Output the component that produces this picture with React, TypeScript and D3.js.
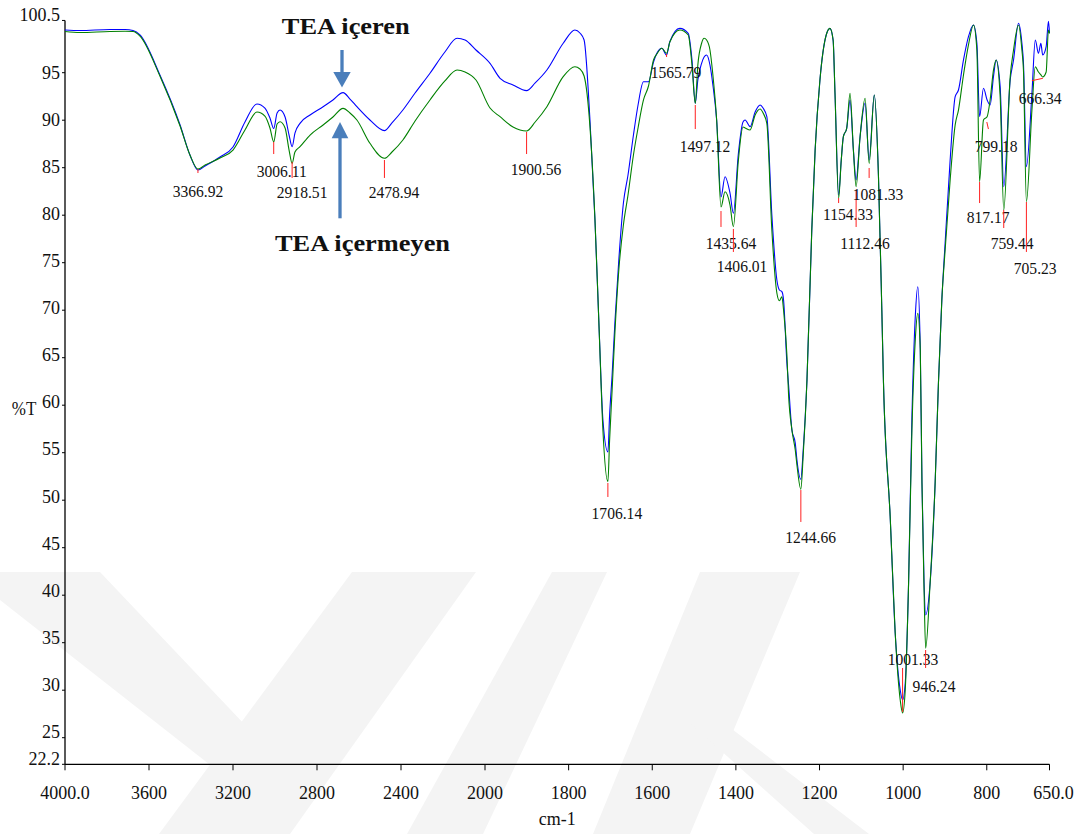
import React from "react";
import * as d3 from "d3";

// ---------- DATA ----------
const wavenumbers = [
  4000, 3929, 3786, 3714, 3676, 3643, 3548, 3452, 3405, 3367, 3333, 3262, 3200, 3143, 3086, 3048, 3024, 3006, 2990, 2976,
  2952, 2933, 2918.5, 2905, 2881, 2833, 2771, 2724, 2676, 2643, 2610, 2548, 2479, 2443, 2391, 2333, 2262, 2191, 2133, 2095,
  2043, 1988, 1964, 1933, 1900.6, 1880, 1852, 1813, 1785, 1773, 1763, 1749, 1737, 1727, 1718, 1706.1, 1702, 1696, 1689, 1680,
  1669, 1658, 1645, 1634, 1621, 1609, 1597, 1589, 1577, 1565.8, 1558, 1534, 1514, 1505, 1497.1, 1491, 1482, 1476, 1470, 1462,
  1455, 1446, 1435.6, 1426, 1414, 1406, 1394, 1383, 1378, 1366, 1354, 1342, 1335, 1326, 1314, 1302, 1296, 1290, 1286, 1278,
  1274, 1266, 1258, 1254, 1244.7, 1239, 1230, 1218.5, 1210.5, 1199, 1184, 1175, 1167.5, 1163, 1154.3, 1148, 1143, 1135, 1127, 1119,
  1112.5, 1103, 1091, 1081.3, 1069, 1059, 1051, 1047, 1031, 1019, 1007, 1001.3, 995, 987, 979, 971, 965, 959, 955, 950,
  946.2, 935.5, 923.5, 915.6, 907.5, 899.6, 887.6, 875.6, 867.7, 855.7, 843.8, 831.8, 823.7, 817.2, 807.9, 799.2, 792, 784, 777.6, 768,
  759.4, 744, 736, 724.2, 716, 712.3, 705.2, 692, 684, 676.4, 670.6, 666.3, 658, 652.5, 650,
];

// "TEA içeren" (blue)
const teaIceren = [
  99.5, 99.44, 99.55, 99.55, 99.44, 98.97, 94.76, 89.5, 86.34, 84.76, 85.18, 86.13, 87.18, 89.81, 91.71, 91.28, 90.23, 89.13, 90.76, 91.07,
  90.34, 88.44, 87.21, 88.65, 89.67, 90.55, 91.42, 92.13, 92.9, 92.23, 91.42, 90.02, 88.9, 89.71, 91.07, 92.86, 94.94, 97.18, 98.62, 98.44,
  97.39, 95.99, 94.41, 93.71, 93.11, 93.92, 95.28, 98.1, 99.5, 99.18, 98.44, 90.02, 79.5, 67.92, 58.44, 55.07, 58.97, 63.18, 68.97, 75.28,
  81.28, 84.23, 88.44, 91.6, 94.05, 94.05, 96.13, 97.04, 97.57, 96.86, 98.26, 99.67, 99.15, 96.34, 91.78, 94.23, 95.99, 96.65, 96.86, 95.81,
  93.71, 90.02, 81.92, 84.05, 82.31, 80.2, 86.52, 89.81, 90.02, 89.32, 90.86, 91.6, 91.28, 90.37, 80.02, 73.18, 72.13, 71.95, 71.07, 64.44,
  62.13, 57.39, 56.02, 54.23, 52.2, 55.28, 62.65, 78.44, 86.86, 94.23, 98.97, 99.67, 98.44, 92.83, 82.13, 85.81, 88.26, 89.15, 92.13, 86.86,
  83.71, 88.26, 91.81, 85.81, 92.65, 84.05, 70.02, 62.34, 48.26, 36.02, 30.02, 28.97, 30.76, 41.28, 58.79, 69.32, 72.47, 65.81, 51.81, 41.28,
  37.92, 41.28, 51.81, 62.34, 71.07, 77.07, 85.81, 92.47, 93.18, 96.34, 98.79, 100.02, 98.1, 90.37, 93.36, 92.13, 91.6, 94.58, 96.34, 93.53,
  83.0, 94.23, 96.34, 100.2, 98.1, 96.02, 85.11, 92.83, 98.44, 97.04, 98.1, 96.86, 97.74, 100.4, 99.15,
];

// "TEA içermeyen" (green)
const teaIcermeyen = [
  99.34, 99.23, 99.34, 99.36, 99.34, 98.86, 94.65, 89.39, 86.34, 84.86, 85.28, 86.02, 86.86, 88.97, 90.86, 90.44, 89.18, 87.71, 89.6, 89.84,
  89.18, 86.86, 85.46, 86.65, 87.21, 88.44, 89.5, 90.34, 91.25, 90.76, 90.02, 87.57, 85.99, 86.65, 87.92, 89.92, 92.13, 94.13, 95.28, 95.07,
  94.23, 91.28, 90.37, 89.28, 88.86, 89.81, 91.42, 94.58, 95.63, 95.39, 94.65, 89.32, 79.5, 67.92, 57.39, 51.95, 56.34, 61.6, 67.92, 74.23,
  78.97, 82.13, 86.34, 89.18, 92.13, 93.6, 96.34, 96.97, 97.57, 97.04, 98.23, 99.5, 98.97, 95.81, 91.78, 95.81, 98.1, 98.62, 98.44, 97.39,
  94.76, 90.02, 80.86, 82.47, 81.07, 78.79, 85.81, 89.28, 89.18, 88.97, 90.55, 91.18, 90.76, 89.67, 78.44, 71.81, 71.0, 71.42, 70.02, 65.28,
  61.07, 57.39, 55.28, 53.71, 51.15, 54.76, 62.65, 78.44, 86.86, 94.23, 98.97, 99.67, 98.44, 92.86, 81.78, 85.81, 88.26, 89.15, 92.83, 86.86,
  83.0, 88.26, 92.31, 85.46, 92.65, 84.05, 70.02, 62.34, 48.26, 36.02, 28.97, 27.6, 30.02, 41.28, 57.39, 66.86, 69.67, 65.81, 51.81, 40.55,
  34.41, 41.28, 51.81, 62.34, 71.07, 76.34, 83.71, 89.5, 91.07, 94.76, 97.92, 100.02, 97.39, 83.53, 90.02, 90.37, 92.13, 95.28, 96.34, 92.47,
  80.55, 94.58, 97.39, 100.02, 97.39, 95.28, 81.42, 91.07, 95.63, 95.07, 94.76, 94.55, 95.07, 99.5, 99.15,
];

const xTickValues = [4000, 3600, 3200, 2800, 2400, 2000, 1800, 1600, 1400, 1200, 1000, 800, 650];
const xTickLabels = ["4000.0", "3600", "3200", "2800", "2400", "2000", "1800", "1600", "1400", "1200", "1000", "800", "650.0"];
const yTickValues = [100.5, 95, 90, 85, 80, 75, 70, 65, 60, 55, 50, 45, 40, 35, 30, 25, 22.2];
const yTickLabels = ["100.5", "95", "90", "85", "80", "75", "70", "65", "60", "55", "50", "45", "40", "35", "30", "25", "22.2"];

const peakWavenumbers = [3366.92, 3006.11, 2918.51, 2478.94, 1900.56, 1706.14, 1565.79, 1497.12, 1435.64, 1406.01, 1244.66,
  1154.33, 1112.46, 1081.33, 1001.33, 946.24, 817.17, 799.18, 759.44, 705.23, 666.34];
const peakLabels = ["3366.92", "3006.11", "2918.51", "2478.94", "1900.56", "1706.14", "1565.79", "1497.12", "1435.64", "1406.01", "1244.66",
  "1154.33", "1112.46", "1081.33", "1001.33", "946.24", "817.17", "799.18", "759.44", "705.23", "666.34"];

const seriesNames = ["TEA içeren", "TEA içermeyen"];
const xAxisTitle = "cm-1";
const yAxisTitle = "%T";

// ---------- LAYOUT (annotation placement, in %T units / px offsets) ----------
const peakLineTop = [84.86, 87.71, 85.6, 85.81, 88.76, 51.81, 96.97, 91.6, 80.44, 78.55, 51.07, 81.81, 82.65, 84.97, 32.34, 34.23, 83.5, 89.81, 80.55, 81.39, 94.16];
const peakLineBottom = [84.44, 86.44, 83.92, 83.92, 86.44, 50.34, 96.65, 89.07, 78.76, 76.13, 47.71, 81.28, 78.76, 83.92, 27.71, 32.34, 81.28, 89.07, 78.65, 76.13, 94.41];
const peakLineDx1 = [0, 0, 0, 0, 0, 0, 0, 0, 0, 0, 0, 0, 0, 0, 0, 0, 0, -0.3, 0, 0, -10.8];
const peakLineDx2 = [0, 0, 0, 0, 0, 0, 0, 0, 0, 0, 0, 0, 0, 0, 0, 0, 0, 1.3, 0, 0, 0.2];
const peakLabelDx = [0, 8, 10, 9.6, 9.4, 9, 9.5, 9.8, 10, 8.7, 9.8, 9.4, 8.9, 8.9, 10.4, 8.4, 8.5, 9, 8.4, 8.8, -2.5];
const peakLabelY = [82.55, 84.65, 82.44, 82.44, 84.86, 48.65, 95.07, 87.28, 77.07, 74.65, 46.13, 80.13, 77.07, 82.23, 33.28, 30.44, 79.81, 87.28, 77.07, 74.44, 92.34];

const WATERMARK: [number, number][][] = [
  [[0, 572], [100, 572], [286, 768], [214, 768], [0, 600]],
  [[352, 572], [476, 572], [290, 834], [159, 834]],
  [[552, 572], [607, 572], [483, 834], [407, 834]],
  [[700, 572], [800, 572], [690, 834], [593, 834]],
  [[690, 723], [724, 723], [869, 834], [814, 834]],
];

const FONT = "Liberation Serif, Times New Roman, Times, serif";
const ARROW = "#4a7ebb";
const TXT: React.CSSProperties = { fontFamily: FONT };

export default function App() {
  const x = d3.scaleLinear().domain([4000, 2000, 650]).range([65, 485, 1049.5]);
  const y = d3.scaleLinear().domain([22.2, 100.5]).range([764.3, 20.45]);

  const lineGen = d3
    .line<number>()
    .x((_, i) => x(wavenumbers[i]))
    .y((d) => y(d))
    .curve(d3.curveMonotoneX);

  const x0 = x(4000);
  const x1 = x(650);
  const yb = y(22.2);
  const yt = y(100.5);

  const labelOffset = (v: number) => (v === 100.5 ? -6 : -1 - (5.5 * (95 - v)) / 72.8);

  return (
    <svg
      width={1079}
      height={834}
      viewBox="0 0 1079 834"
      style={{ position: "absolute", left: 0, top: 0, display: "block", background: "#ffffff" }}
    >
      <rect x={0} y={0} width={1079} height={834} fill="#ffffff" />
      {/* watermark */}
      <g fill="#f4f4f4">
        {WATERMARK.map((p, i) => (
          <polygon key={i} points={p.map((q) => q.join(",")).join(" ")} />
        ))}
      </g>

      {/* axes */}
      <line x1={x0} y1={yt} x2={x0} y2={yb} stroke="#000" strokeWidth={1.3} />
      <line x1={x0} y1={yb} x2={x1} y2={yb} stroke="#000" strokeWidth={1.3} />
      {yTickValues.map((v, i) => (
        <g key={"yt" + i}>
          <line x1={x0 - 3} x2={x0} y1={y(v)} y2={y(v)} stroke="#000" strokeWidth={1} />
          <text
            style={TXT}
            transform={`translate(${x0 - 5},${y(v) + labelOffset(v)}) scale(1,1.1)`}
            textAnchor="end"
            dominantBaseline="central"
            fontSize={18}
            fill="#111"
          >
            {yTickLabels[i]}
          </text>
        </g>
      ))}
      {xTickValues.map((v, i) => (
        <g key={"xt" + i}>
          <line x1={x(v)} x2={x(v)} y1={yb} y2={yb + 6} stroke="#000" strokeWidth={1} />
          <text
            style={TXT}
            transform={`translate(${x(v) + (v === 650 ? 4 : 0)},${792.5}) scale(1,1.1)`}
            textAnchor="middle"
            dominantBaseline="central"
            fontSize={18}
            fill="#111"
          >
            {xTickLabels[i]}
          </text>
        </g>
      ))}
      <text style={TXT} transform={`translate(${(x0 + x1) / 2},818) scale(1,1.1)`} textAnchor="middle" dominantBaseline="central" fontSize={18} fill="#111">
        {xAxisTitle}
      </text>
      <text style={TXT} transform={`translate(24,${y(60) + 4}) scale(1,1.1)`} textAnchor="middle" dominantBaseline="central" fontSize={17} fill="#111">
        {yAxisTitle}
      </text>

      {/* spectra */}
      <path d={lineGen(teaIceren) || ""} fill="none" stroke="#0000ff" strokeWidth={1.1} />
      <path d={lineGen(teaIcermeyen) || ""} fill="none" stroke="#008000" strokeWidth={1.1} />

      {/* peak annotations */}
      {peakWavenumbers.map((wn, i) => (
        <g key={"pk" + i}>
          <line
            x1={x(wn) + peakLineDx1[i]}
            x2={x(wn) + peakLineDx2[i]}
            y1={y(peakLineTop[i])}
            y2={y(peakLineBottom[i])}
            stroke="#ff2020"
            strokeWidth={1}
          />
          <text
            style={TXT}
            transform={`translate(${x(wn) + peakLabelDx[i]},${y(peakLabelY[i])}) scale(1,1.1)`}
            textAnchor="middle"
            dominantBaseline="central"
            fontSize={15.6}
            fill="#111"
          >
            {peakLabels[i]}
          </text>
        </g>
      ))}

      {/* series callouts */}
      <text style={TXT} x={345.8} y={34.3} textAnchor="middle" fontSize={23} fontWeight="bold" fill="#111" textLength={128} lengthAdjust="spacingAndGlyphs">
        {seriesNames[0]}
      </text>
      <line x1={342} x2={342} y1={50} y2={73} stroke={ARROW} strokeWidth={3.3} />
      <polygon points="333.3,72 350.7,72 342,87.5" fill={ARROW} />

      <line x1={340} x2={340} y1={137} y2={218.3} stroke={ARROW} strokeWidth={3.3} />
      <polygon points="331.7,138.3 348.3,138.3 340,122" fill={ARROW} />
      <text style={TXT} x={362.5} y={251} textAnchor="middle" fontSize={23} fontWeight="bold" fill="#111" textLength={175} lengthAdjust="spacingAndGlyphs">
        {seriesNames[1]}
      </text>
    </svg>
  );
}
